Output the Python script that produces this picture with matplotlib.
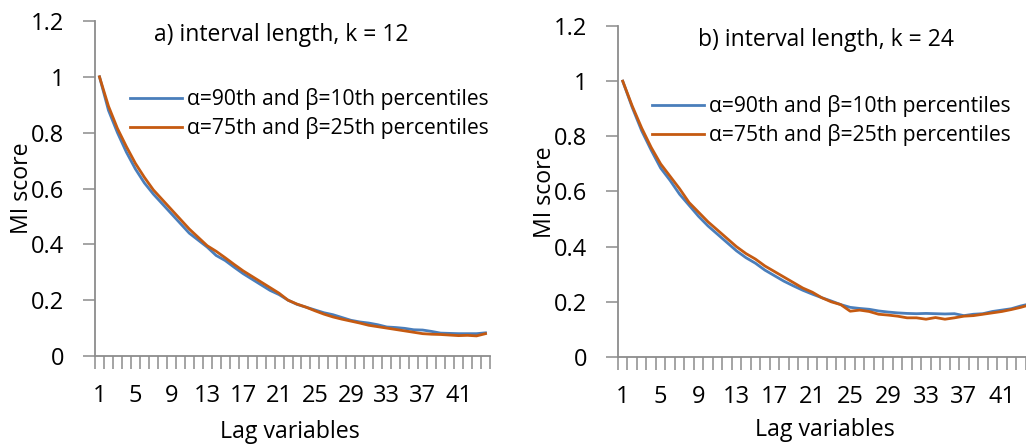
import numpy as np
import matplotlib
matplotlib.use('Agg')
import matplotlib.pyplot as plt

plt.rcParams['font.family'] = ['Open Sans', 'DejaVu Sans']

lags = list(range(1, 45))
tick_lags = list(range(1, 45, 4))
yticks = [0, 0.2, 0.4, 0.6, 0.8, 1.0, 1.2]
ytick_labels = ['0', '0.2', '0.4', '0.6', '0.8', '1', '1.2']

# a) k = 12
a_90_10 = [1.0, 0.88, 0.80, 0.73, 0.67, 0.62, 0.58, 0.545, 0.51, 0.475,
           0.44, 0.415, 0.39, 0.36, 0.342, 0.318, 0.295, 0.275, 0.255, 0.235,
           0.22, 0.20, 0.185, 0.175, 0.165, 0.155, 0.148, 0.138, 0.128, 0.122,
           0.118, 0.112, 0.104, 0.102, 0.099, 0.094, 0.093, 0.088, 0.082, 0.081,
           0.080, 0.080, 0.080, 0.083]
a_75_25 = [1.0, 0.895, 0.815, 0.75, 0.69, 0.64, 0.595, 0.56, 0.525, 0.49,
           0.455, 0.425, 0.395, 0.375, 0.352, 0.328, 0.305, 0.285, 0.265, 0.245,
           0.225, 0.20, 0.186, 0.175, 0.162, 0.15, 0.14, 0.132, 0.125, 0.118,
           0.11, 0.105, 0.10, 0.095, 0.09, 0.085, 0.08, 0.078, 0.077, 0.075,
           0.073, 0.074, 0.072, 0.08]

# b) k = 24
b_90_10 = [1.0, 0.905, 0.82, 0.75, 0.685, 0.64, 0.59, 0.55, 0.51, 0.475,
           0.445, 0.415, 0.385, 0.36, 0.34, 0.315, 0.295, 0.275, 0.258, 0.242,
           0.228, 0.215, 0.203, 0.19, 0.18, 0.176, 0.173, 0.167, 0.163, 0.16,
           0.158, 0.157, 0.158, 0.157, 0.156, 0.157, 0.15, 0.155, 0.157, 0.165,
           0.17, 0.175, 0.185, 0.193]
b_75_25 = [1.0, 0.91, 0.83, 0.76, 0.70, 0.655, 0.61, 0.56, 0.525, 0.49,
           0.46, 0.43, 0.40, 0.375, 0.355, 0.33, 0.31, 0.29, 0.27, 0.25,
           0.235, 0.215, 0.20, 0.19, 0.166, 0.17, 0.165, 0.155, 0.152, 0.148,
           0.142, 0.142, 0.137, 0.143, 0.137, 0.142, 0.148, 0.15, 0.155, 0.16,
           0.165, 0.172, 0.18, 0.19]

labels = ['α=90th and β=10th percentiles', 'α=75th and β=25th percentiles']
titles = ['a) interval length, k = 12', 'b) interval length, k = 24']

blue = '#4A7EBB'
orange = '#C55A11'
axis_col = '#8C8C8C'
fs_tick = 17
fs_title = 16.5
fs_leg = 15.2
fs_lab = 16.7

fig = plt.figure(figsize=(10.26, 4.46), dpi=100)
ax1 = fig.add_axes([95 / 1026, 90 / 446, 395 / 1026, 335 / 446])
ax2 = fig.add_axes([618 / 1026, 89 / 446, 417 / 1026, 331 / 446])

panels = [(ax1, a_90_10, a_75_25), (ax2, b_90_10, b_75_25)]
for ax, s1, s2 in panels:
    ax.plot(lags, s1, color=blue, lw=2.0, label=labels[0], clip_on=False)
    ax.plot(lags, s2, color=orange, lw=2.0, label=labels[1], clip_on=False)
    ax.set_xlim(0.5, 44.5)
    ax.set_ylim(0, 1.2)
    ax.set_yticks(yticks)
    ax.set_yticklabels(ytick_labels)
    ax.set_xticks(tick_lags)
    ax.set_xticks(np.arange(0.5, 45, 1), minor=True)
    ax.tick_params(axis='x', which='major', length=0, pad=20, labelsize=fs_tick)
    ax.tick_params(axis='x', which='minor', length=9, width=1.1, color=axis_col)
    ax.tick_params(axis='y', length=9, width=1.1, color=axis_col, labelsize=fs_tick, pad=13)
    for sp in ['top', 'right']:
        ax.spines[sp].set_visible(False)
    for sp in ['left', 'bottom']:
        ax.spines[sp].set_color(axis_col)
        ax.spines[sp].set_linewidth(1.3)

leg_kw = dict(bbox_transform=fig.transFigure, frameon=False, fontsize=fs_leg,
              handlelength=2.47, handletextpad=0.24, labelspacing=0.33,
              borderpad=0, borderaxespad=0, loc='upper left')
ax1.legend(bbox_to_anchor=(130 / 1026, 1 - 88 / 446), **leg_kw)
ax2.legend(bbox_to_anchor=(652 / 1026, 1 - 95 / 446), **leg_kw)

fig.text(281 / 1026, 1 - 35 / 446, titles[0], ha='center', va='center', fontsize=fs_title)
fig.text(826 / 1026, 1 - 40 / 446, titles[1], ha='center', va='center', fontsize=fs_title)
fig.text(22 / 1026, 1 - 188 / 446, 'MI score', rotation=90, ha='center', va='center', fontsize=fs_lab)
fig.text(545 / 1026, 1 - 192 / 446, 'MI score', rotation=90, ha='center', va='center', fontsize=fs_lab)
fig.text(290 / 1026, 1 - 432 / 446, 'Lag variables', ha='center', va='center', fontsize=fs_lab)
fig.text(825 / 1026, 1 - 430 / 446, 'Lag variables', ha='center', va='center', fontsize=fs_lab)

fig.savefig('out.png', dpi=100)
